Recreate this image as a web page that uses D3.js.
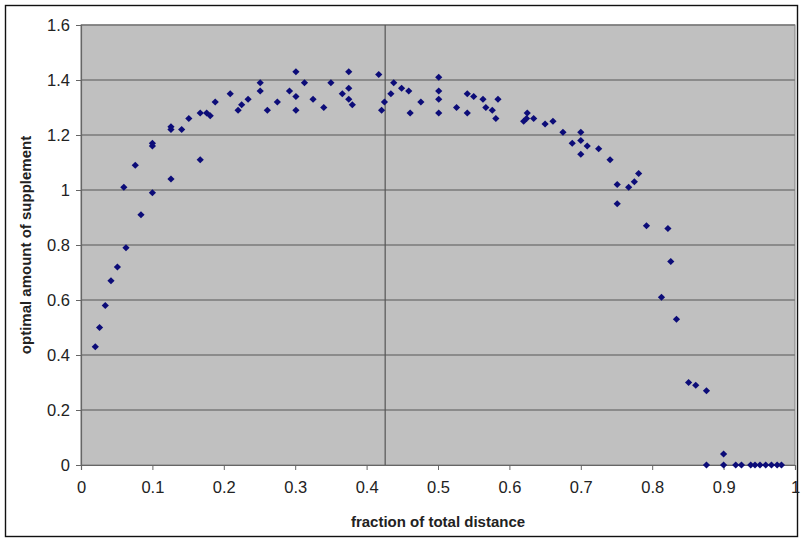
<!DOCTYPE html>
<html>
<head>
<meta charset="utf-8">
<script src="https://cdn.jsdelivr.net/npm/d3@7"></script>
<style>
body { margin: 0; background: #fff; }
text { font-family: Arial, "Liberation Sans", sans-serif; }
</style>
</head>
<body>
<script>
// data
var fraction = [
  0.020, 0.026, 0.034, 0.042, 0.051, 0.060, 0.063, 0.076, 0.084, 0.100,
  0.100, 0.100, 0.126, 0.126, 0.126, 0.141, 0.151, 0.167, 0.167, 0.176,
  0.181, 0.188, 0.209, 0.220, 0.225, 0.234, 0.251, 0.251, 0.261, 0.275,
  0.292, 0.301, 0.301, 0.301, 0.313, 0.325, 0.340, 0.350, 0.366, 0.375,
  0.375, 0.375, 0.380, 0.417, 0.421, 0.425, 0.434, 0.438, 0.449, 0.459,
  0.461, 0.476, 0.501, 0.501, 0.501, 0.501, 0.526, 0.541, 0.541, 0.550,
  0.563, 0.567, 0.576, 0.581, 0.584, 0.620, 0.624, 0.625, 0.634, 0.650,
  0.661, 0.675, 0.688, 0.700, 0.700, 0.700, 0.709, 0.725, 0.741, 0.751,
  0.751, 0.767, 0.775, 0.781, 0.792, 0.813, 0.822, 0.826, 0.834, 0.851,
  0.861, 0.876, 0.876, 0.900, 0.900, 0.917, 0.925, 0.938, 0.944, 0.951,
  0.959, 0.967, 0.975, 0.981
];
var supplement = [
  0.43, 0.50, 0.58, 0.67, 0.72, 1.01, 0.79, 1.09, 0.91, 0.99,
  1.17, 1.16, 1.04, 1.23, 1.22, 1.22, 1.26, 1.11, 1.28, 1.28,
  1.27, 1.32, 1.35, 1.29, 1.31, 1.33, 1.39, 1.36, 1.29, 1.32,
  1.36, 1.43, 1.34, 1.29, 1.39, 1.33, 1.30, 1.39, 1.35, 1.43,
  1.37, 1.33, 1.31, 1.42, 1.29, 1.32, 1.35, 1.39, 1.37, 1.36,
  1.28, 1.32, 1.41, 1.36, 1.33, 1.28, 1.30, 1.35, 1.28, 1.34,
  1.33, 1.30, 1.29, 1.26, 1.33, 1.25, 1.26, 1.28, 1.26, 1.24,
  1.25, 1.21, 1.17, 1.21, 1.18, 1.13, 1.16, 1.15, 1.11, 1.02,
  0.95, 1.01, 1.03, 1.06, 0.87, 0.61, 0.86, 0.74, 0.53, 0.30,
  0.29, 0.27, 0.00, 0.04, 0.00, 0.00, 0.00, 0.00, 0.00, 0.00,
  0.00, 0.00, 0.00, 0.00
];
var xTicks = [0, 0.1, 0.2, 0.3, 0.4, 0.5, 0.6, 0.7, 0.8, 0.9, 1];
var yTicks = [0, 0.2, 0.4, 0.6, 0.8, 1, 1.2, 1.4, 1.6];
var markerLine = 0.426;

var w = 802, h = 540;
var plotLeft = 81, plotRight = 795, plotTop = 25, plotBottom = 465;

var svg = d3.select("body").append("svg")
  .attr("width", w)
  .attr("height", h);

// outer frame
svg.append("rect")
  .attr("x", 5.5).attr("y", 5.5)
  .attr("width", 792).attr("height", 531)
  .attr("fill", "#fff")
  .attr("stroke", "#111")
  .attr("stroke-width", 1.4);

var x = d3.scaleLinear().domain([0, 1]).range([plotLeft, plotRight]);
var y = d3.scaleLinear().domain([0, 1.6]).range([plotBottom, plotTop]);

// plot area
svg.append("rect")
  .attr("x", plotLeft).attr("y", plotTop)
  .attr("width", plotRight - plotLeft).attr("height", plotBottom - plotTop)
  .attr("fill", "#c0c0c0")
  .attr("stroke", "#808080");

// gridlines
svg.append("g")
  .selectAll("line")
  .data(yTicks.slice(1))
  .enter().append("line")
  .attr("x1", plotLeft).attr("x2", plotRight)
  .attr("y1", (d) => y(d)).attr("y2", (d) => y(d))
  .attr("stroke", "#7a7a7a")
  .attr("stroke-width", 1.5);

// vertical reference line
svg.append("line")
  .attr("x1", x(markerLine)).attr("x2", x(markerLine))
  .attr("y1", plotTop).attr("y2", plotBottom)
  .attr("stroke", "#555")
  .attr("stroke-width", 1.2);

// axes
var xAxis = d3.axisBottom(x).tickValues(xTicks).tickSize(5).tickPadding(11)
  .tickFormat(d3.format("~g"));
var yAxis = d3.axisLeft(y).tickValues(yTicks).tickSize(5).tickPadding(6)
  .tickFormat(d3.format("~g"));

var gx = svg.append("g")
  .attr("transform", "translate(0," + plotBottom + ")")
  .call(xAxis);
var gy = svg.append("g")
  .attr("transform", "translate(" + plotLeft + ",0)")
  .call(yAxis);

[gx, gy].forEach(function(g) {
  g.select(".domain").attr("stroke", "#666").attr("stroke-width", 1.2);
  g.selectAll(".tick line").attr("stroke", "#666");
  g.selectAll(".tick text")
    .attr("fill", "#222")
    .style("font-size", "16.5px")
    .style("font-family", "Arial, 'Liberation Sans', sans-serif");
});

// points
var sym = d3.symbol().type(d3.symbolSquare).size(26);
svg.append("g")
  .selectAll("path")
  .data(fraction)
  .enter().append("path")
  .attr("d", sym)
  .attr("transform", (d, i) => "translate(" + x(d) + "," + y(supplement[i]) + ") rotate(45)")
  .attr("fill", "#0c0c78");

// axis titles
svg.append("text")
  .attr("x", (plotLeft + plotRight) / 2)
  .attr("y", 527)
  .attr("text-anchor", "middle")
  .attr("font-size", "15px")
  .attr("font-weight", "bold")
  .attr("fill", "#222")
  .text("fraction of total distance");

svg.append("text")
  .attr("transform", "translate(31," + ((plotTop + plotBottom) / 2) + ") rotate(-90)")
  .attr("text-anchor", "middle")
  .attr("font-size", "15px")
  .attr("font-weight", "bold")
  .attr("fill", "#222")
  .text("optimal amount of supplement");
</script>
</body>
</html>
